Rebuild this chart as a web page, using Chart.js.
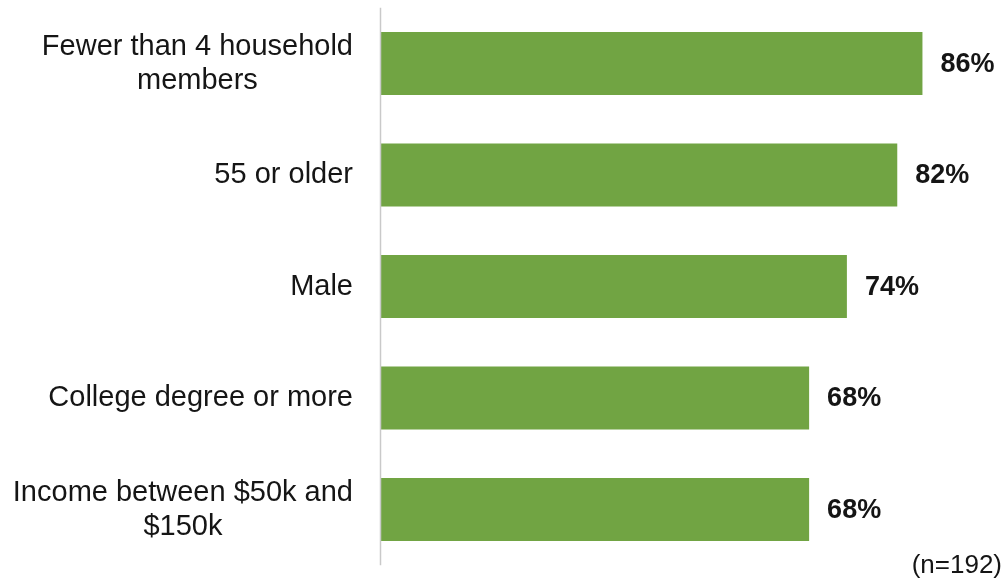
<!DOCTYPE html>
<html>
<head>
<meta charset="utf-8">
<script src="https://cdn.jsdelivr.net/npm/chart.js@4/dist/chart.umd.min.js"></script>
<style>
html,body{margin:0;padding:0;background:#fff;}
#wrap{position:relative;width:1008px;height:581px;}
</style>
</head>
<body>
<div id="wrap"><canvas id="bars"></canvas></div>
<script>
// categories (multi-line where the label wraps)
const categories=[
  ["Fewer than 4 household","members"],
  ["55 or older"],
  ["Male"],
  ["College degree or more"],
  ["Income between $50k and","$150k"]
];
const values=[86,82,74,68,68];
const sampleNote="(n=192)";

const GREEN="#71a443";
const TXT="#151515";
const FONT="'Liberation Sans', Arial, sans-serif";

// left labels: block right-aligned to the axis, lines centred inside the block
const sideLabels={
  id:"sideLabels",
  afterDraw(chart){
    const {ctx,chartArea}=chart;
    const y=chart.scales.y;
    const right=353,lh=34;
    ctx.save();
    // axis line
    ctx.strokeStyle="#c9c9c9";ctx.lineWidth=1.5;
    ctx.beginPath();ctx.moveTo(chartArea.left-0.5,chartArea.top);ctx.lineTo(chartArea.left-0.5,chartArea.bottom);ctx.stroke();
    ctx.fillStyle=TXT;ctx.font="29px "+FONT;ctx.textBaseline="middle";
    categories.forEach((lines,i)=>{
      const cy=y.getPixelForValue(i);
      const w=Math.max(...lines.map(l=>ctx.measureText(l).width));
      const cx=right-w/2;
      ctx.textAlign="center";
      lines.forEach((l,k)=>{
        const ly=cy+(k-(lines.length-1)/2)*lh;
        ctx.fillText(l,cx,ly);
      });
    });
    // value labels
    ctx.font="bold 27px "+FONT;ctx.textAlign="left";
    chart.getDatasetMeta(0).data.forEach((bar,i)=>{
      ctx.fillText(values[i]+"%",bar.x+18,bar.y+1);
    });
    // sample size
    ctx.font="26px "+FONT;ctx.textAlign="right";ctx.textBaseline="alphabetic";
    ctx.fillText(sampleNote,1002,573);
    ctx.restore();
  }
};

new Chart(document.getElementById("bars"),{
  type:"bar",
  data:{labels:categories,datasets:[{data:values,backgroundColor:GREEN,borderWidth:0,barPercentage:0.565,categoryPercentage:1}]},
  options:{
    indexAxis:"y",responsive:true,maintainAspectRatio:false,animation:false,
    layout:{padding:{left:381,right:10,top:7.75,bottom:15.75}},
    plugins:{legend:{display:false},tooltip:{enabled:false}},
    scales:{
      x:{display:false,min:0,max:98},
      y:{display:false}
    }
  },
  plugins:[sideLabels]
});
</script>
</body>
</html>
